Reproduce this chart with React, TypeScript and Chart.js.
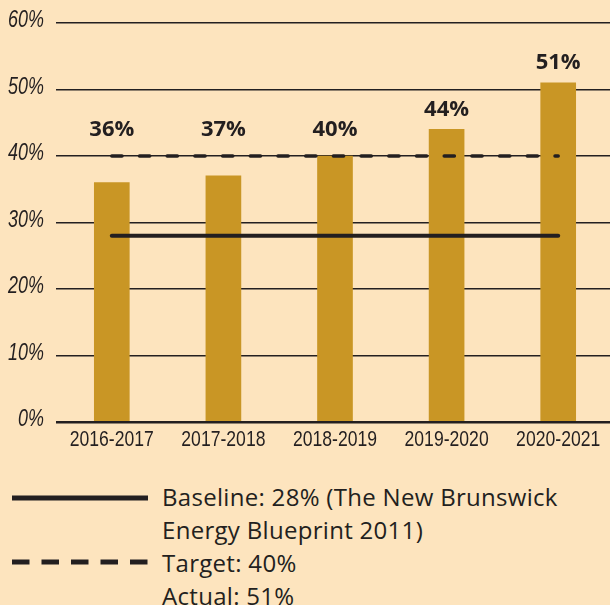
import React, { useEffect, useRef } from "react";
import { Chart, registerables } from "chart.js";

Chart.register(...registerables);

const categories = ["2016-2017", "2017-2018", "2018-2019", "2019-2020", "2020-2021"];
const actualValues = [36, 37, 40, 44, 51];
const baselineValues = [28, 28, 28, 28, 28];
const targetValues = [40, 40, 40, 40, 40];
const yMin = 0;
const yMax = 60;
const yStep = 10;
const legendBaselineLines = ["Baseline: 28% (The New Brunswick", "Energy Blueprint 2011)"];
const legendTargetLines = ["Target: 40%"];
const legendActualLines = ["Actual: 51%"];

const BG = "#FDE4BE";
const BAR = "#C99625";
const INK = "#231f20";

const valueLabels = {
  id: "valueLabels",
  afterDatasetsDraw(chart: any) {
    const ctx = chart.ctx;
    const meta = chart.getDatasetMeta(0);
    const yScale = chart.scales.y;
    const targetY = yScale.getPixelForValue(targetValues[0]);
    ctx.save();
    ctx.font = "bold 22px 'Open Sans', sans-serif";
    ctx.fillStyle = INK;
    ctx.textAlign = "center";
    ctx.textBaseline = "middle";
    meta.data.forEach((bar: any, i: number) => {
      const ty = Math.min(bar.y - 20, targetY - 26);
      ctx.fillText(actualValues[i] + "%", bar.x, ty);
    });
    ctx.restore();
  },
};

// Condensed tick labels, positioned from the chart's own scales
const condensedTicks = {
  id: "condensedTicks",
  afterDraw(chart: any) {
    const ctx = chart.ctx;
    const xs = chart.scales.x;
    const ys = chart.scales.y;
    ctx.save();
    ctx.fillStyle = INK;
    ctx.textBaseline = "middle";
    ctx.font = "22px 'Liberation Sans', Arial, sans-serif";
    ctx.textAlign = "center";
    xs.ticks.forEach((t: any, i: number) => {
      const px = xs.getPixelForTick(i);
      ctx.save();
      ctx.translate(px, xs.top + 18);
      ctx.scale(0.8, 1);
      ctx.fillText(String(xs.getLabelForValue(t.value)), 0, 0);
      ctx.restore();
    });
    ctx.font = "italic 23px 'Liberation Sans', Arial, sans-serif";
    ctx.textAlign = "right";
    ys.ticks.forEach((t: any, i: number) => {
      const py = ys.getPixelForTick(i);
      ctx.save();
      ctx.translate(ys.right - 12, py - 2);
      ctx.scale(0.78, 1);
      ctx.fillText(String(t.label), 0, 0);
      ctx.restore();
    });
    ctx.restore();
  },
};

export default function App() {
  const ref = useRef<HTMLCanvasElement | null>(null);

  useEffect(() => {
    document.body.style.margin = "0";
    document.body.style.background = BG;
    document.documentElement.style.background = BG;
    const canvas = ref.current!;
    const chart = new Chart(canvas, {
      type: "bar",
      data: {
        labels: categories,
        datasets: [
          {
            type: "bar",
            label: "Actual",
            data: actualValues,
            backgroundColor: BAR,
            barThickness: 35,
            order: 3,
          } as any,
          {
            type: "line",
            label: "Target",
            data: targetValues,
            borderColor: INK,
            borderWidth: 3.5,
            borderDash: [10.2, 17.5],
            borderCapStyle: "round",
            pointRadius: 0,
            fill: false,
            order: 1,
          } as any,
          {
            type: "line",
            label: "Baseline",
            data: baselineValues,
            borderColor: INK,
            borderWidth: 4,
            borderCapStyle: "round",
            pointRadius: 0,
            fill: false,
            order: 2,
          } as any,
        ],
      },
      options: {
        responsive: false,
        animation: false,
        devicePixelRatio: 1,
        layout: { padding: { top: 23, right: 2, left: 0, bottom: 0 } },
        plugins: {
          legend: { display: false },
          tooltip: { enabled: false },
        },
        scales: {
          x: {
            grid: { display: false, drawTicks: false },
            border: { display: false },
            ticks: { display: false, autoSkip: false },
            afterFit: (s: any) => {
              s.height = 38;
            },
          },
          y: {
            min: yMin,
            max: yMax,
            grid: {
              color: INK,
              lineWidth: (c: any) => (c.tick && c.tick.value === 0 ? 2.5 : 1.6),
              drawTicks: false,
            },
            border: { display: false },
            ticks: {
              display: false,
              stepSize: yStep,
              callback: (v: any) => v + "%",
            },
            afterFit: (s: any) => {
              s.width = 56;
            },
          },
        },
      },
      plugins: [valueLabels, condensedTicks],
    });
    return () => chart.destroy();
  }, []);

  const textStyle: React.CSSProperties = {
    position: "absolute",
    left: 162,
    fontFamily: "'Open Sans', sans-serif",
    fontSize: 24,
    letterSpacing: "0.3px",
    lineHeight: "33px",
    color: INK,
    whiteSpace: "nowrap",
  };

  return (
    <div style={{ position: "relative", width: 610, height: 605, overflow: "hidden", background: BG }}>
      <canvas ref={ref} width={616} height={460} style={{ display: "block", width: 616, height: 460 }} />
      <svg width={160} height={605} style={{ position: "absolute", left: 0, top: 0 }}>
        <line x1={12} x2={148} y1={498} y2={498} stroke={INK} strokeWidth={5} />
        <line x1={12} x2={148} y1={562} y2={562} stroke={INK} strokeWidth={5} strokeDasharray="17.5 12" />
      </svg>
      <div style={{ ...textStyle, top: 480 }}>
        {legendBaselineLines.map((l, i) => (
          <div key={i}>{l}</div>
        ))}
        {legendTargetLines.map((l, i) => (
          <div key={"t" + i}>{l}</div>
        ))}
        {legendActualLines.map((l, i) => (
          <div key={"a" + i}>{l}</div>
        ))}
      </div>
    </div>
  );
}
